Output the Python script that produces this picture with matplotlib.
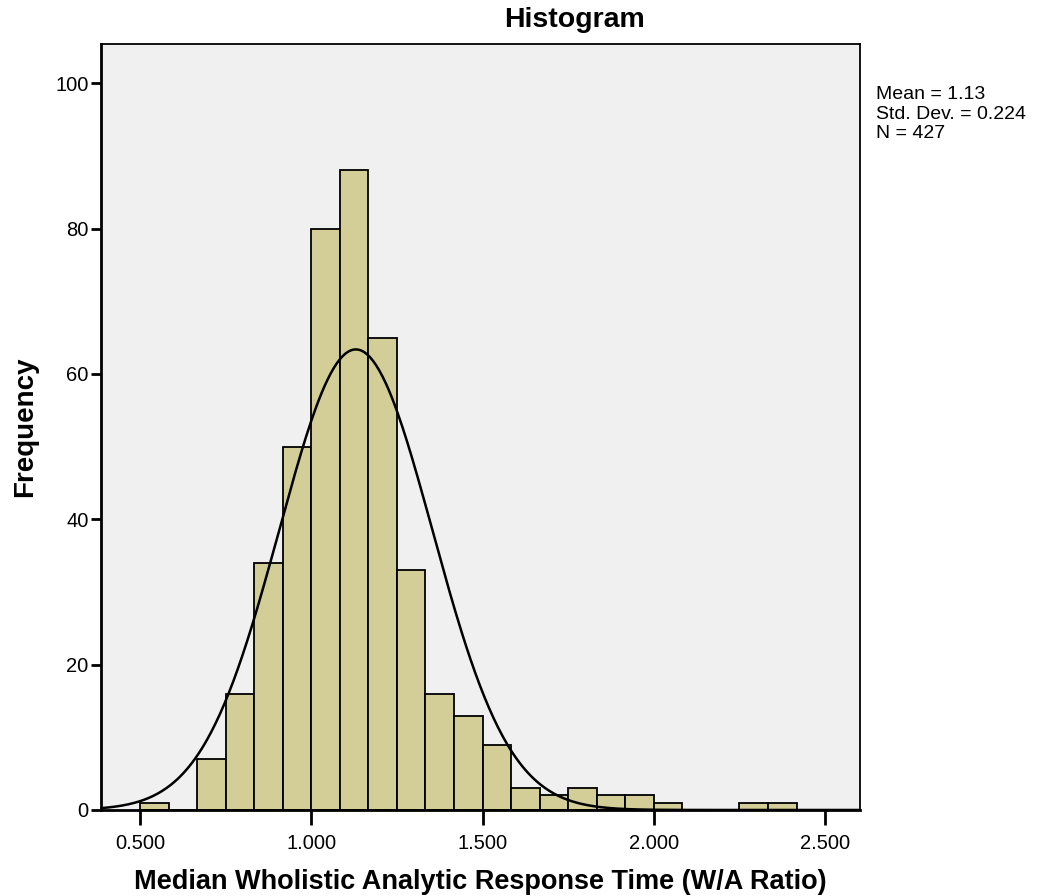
import matplotlib.pyplot as plt
import numpy as np

plt.rcParams['font.family'] = ['Liberation Sans', 'DejaVu Sans']

# histogram bins (width 1/12) and counts
bin_start = 0.5
bin_width = 1.0 / 12
counts = [1, 0, 7, 16, 34, 50, 80, 88, 65, 33, 16, 13, 9,
          3, 2, 3, 2, 2, 1, 0, 0, 1, 1]

mean = 1.13
sd = 0.224
n = 427

xticks = [0.5, 1.0, 1.5, 2.0, 2.5]
xtick_labels = ['0.500', '1.000', '1.500', '2.000', '2.500']
yticks = [0, 20, 40, 60, 80, 100]

fig = plt.figure(figsize=(10.39, 8.96), dpi=100)
ax = fig.add_axes([0.0972, 0.096, 0.7305, 0.8549])
ax.set_facecolor('#f0f0f0')

edges = bin_start + bin_width * np.arange(len(counts))
ax.bar(edges, counts, width=bin_width, align='edge',
       color='#d3ce97', edgecolor='black', linewidth=1.3, zorder=2)

# fitted normal curve
xmin, xmax = 0.386, 2.602
xs = np.linspace(xmin, xmax, 500)
ys = n * bin_width * np.exp(-0.5 * ((xs - mean) / sd) ** 2) / (sd * np.sqrt(2 * np.pi))
ax.plot(xs, ys, color='black', linewidth=1.8, zorder=3)

ax.set_xlim(xmin, xmax)
ax.set_ylim(0, 105.4)
ax.set_xticks(xticks)
ax.set_xticklabels(xtick_labels)
ax.set_yticks(yticks)
ax.tick_params(axis='x', direction='out', length=11, width=2, labelsize=14.5, pad=6)
ax.tick_params(axis='y', direction='out', length=7, width=2, labelsize=14.5, pad=2)
for s in ax.spines.values():
    s.set_linewidth(1.3)
ax.spines['left'].set_linewidth(2)
ax.spines['bottom'].set_linewidth(2)

fig.text(0.5525, 0.9699, 'Histogram', fontsize=20.5, fontweight='bold',
         ha='center', va='baseline')
ax.set_xlabel('Median Wholistic Analytic Response Time (W/A Ratio)',
              fontsize=19.5, fontweight='bold', labelpad=12)
ax.set_ylabel('Frequency', fontsize=20, fontweight='bold', labelpad=12)

fig.text(0.843, 0.904, 'Mean = 1.13\nStd. Dev. = 0.224\nN = 427',
         fontsize=14, va='top', ha='left', linespacing=1.2)

fig.savefig('out.png', dpi=100)
